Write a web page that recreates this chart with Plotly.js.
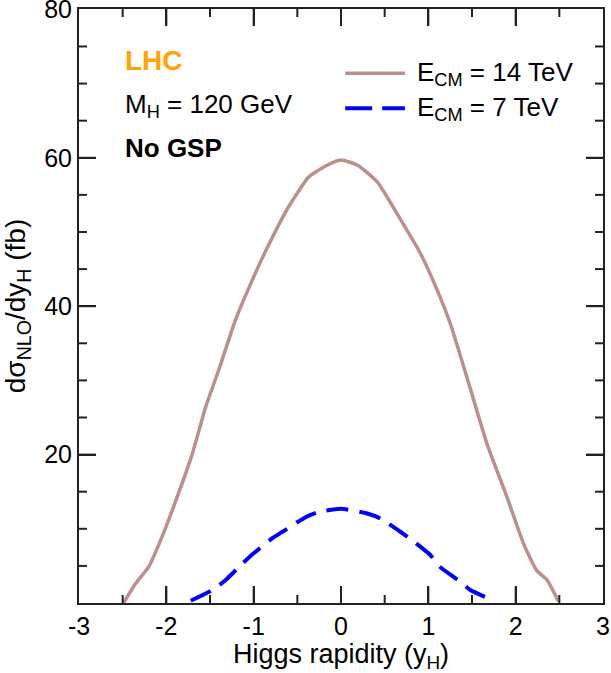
<!DOCTYPE html>
<html>
<head>
<meta charset="utf-8">
<script src="https://cdn.plot.ly/plotly-3.0.1.min.js"></script>
<style>
  html, body { margin: 0; padding: 0; background: #fff; overflow: hidden; }
  /* svg is 20px taller than the window so the "80" label at the top edge is not dropped */
  #chart { width: 611px; height: 693px; margin-top: -20px; }
</style>
</head>
<body>
<div id="chart"></div>
<script>
// 14 TeV curve
const rap14 = [-2.49, -2.35, -2.2, -2.05, -1.86, -1.7, -1.55, -1.4, -1.21, -1.05, -0.86, -0.6, -0.37, -0.175, 0,
               0.19, 0.42, 0.64, 0.91, 1.1, 1.25, 1.44, 1.67, 1.9, 2.09, 2.24, 2.36, 2.49];
const xsec14 = [0, 2.65, 4.9, 8.9, 14.8, 20.2, 26.4, 31.4, 38.1, 42.6, 47.5, 53.4, 57.4, 58.9, 59.7,
                59.0, 56.7, 52.5, 47.1, 42.2, 37.7, 30.5, 21.5, 14.3, 8.0, 4.4, 3.1, 0.2];

// 7 TeV curve
const rap7 = [-1.72, -1.47, -1.32, -1.13, -1.02, -0.79, -0.67, -0.4, -0.25, 0,
              0.29, 0.45, 0.68, 0.81, 1.02, 1.13, 1.35, 1.48, 1.73];
const xsec7 = [0.3, 1.75, 3.1, 5.3, 6.5, 8.7, 9.6, 11.6, 12.3, 12.7,
               12.1, 11.4, 9.6, 8.5, 6.5, 4.9, 3.0, 1.75, 0.4];

const xTicks = [-3, -2, -1, 0, 1, 2, 3];
const xTickText = ['-3', '-2', '-1', '0', '1', '2', '3'];
const yTicks = [20, 40, 60, 80];
const yMajor = [0, 20, 40, 60, 80];

const seriesNames = ['E<sub>CM</sub> = 14 TeV', 'E<sub>CM</sub> = 7 TeV'];
const seriesColors = ['#bc8f8f', '#0000ff'];

const font = 'Liberation Sans, Arial, sans-serif';
const tickCol = '#222';

const trace14 = {
    x: rap14, y: xsec14, mode: 'lines', name: seriesNames[0],
    line: {color: seriesColors[0], width: 3.5, shape: 'spline', smoothing: 0.5}
};
const trace7 = {
    x: rap7, y: xsec7, mode: 'lines', name: seriesNames[1],
    line: {color: seriesColors[1], width: 4, dash: '22px,11px', shape: 'spline', smoothing: 0.5}
};

function frame(extra) {
    return Object.assign({
        showline: true, linecolor: tickCol, linewidth: 2,
        mirror: 'allticks', ticks: 'inside', ticklen: 17, tickwidth: 2, tickcolor: tickCol,
        gridcolor: 'rgba(0,0,0,0)', zeroline: false,
        tickfont: {family: font, size: 25}
    }, extra);
}

// inside tick marks on all four sides, placed through the axes as shapes
const xMinor = xTicks.slice(1).map((v, i) => (v + xTicks[i]) / 2);
const yMinor = [];
yMajor.slice(1).forEach((v, i) => { [5, 10, 15].forEach(d => yMinor.push(yMajor[i] + d)); });

function xTick(v, len) {
    return [
        {type: 'line', xref: 'x', yref: 'paper', ysizemode: 'pixel', yanchor: 0, x0: v, x1: v, y0: 0, y1: len,
         line: {color: tickCol, width: 2}},
        {type: 'line', xref: 'x', yref: 'paper', ysizemode: 'pixel', yanchor: 1, x0: v, x1: v, y0: 0, y1: -len,
         line: {color: tickCol, width: 2}}
    ];
}
function yTick(v, len) {
    return [
        {type: 'line', xref: 'paper', yref: 'y', xsizemode: 'pixel', xanchor: 0, x0: 0, x1: len, y0: v, y1: v,
         line: {color: tickCol, width: 2}},
        {type: 'line', xref: 'paper', yref: 'y', xsizemode: 'pixel', xanchor: 1, x0: 0, x1: -len, y0: v, y1: v,
         line: {color: tickCol, width: 2}}
    ];
}
let tickShapes = [];
xTicks.slice(1, -1).forEach(v => { tickShapes = tickShapes.concat(xTick(v, 17)); });
xMinor.forEach(v => { tickShapes = tickShapes.concat(xTick(v, 8)); });
yTicks.slice(0, -1).forEach(v => { tickShapes = tickShapes.concat(yTick(v, 17)); });
yMinor.forEach(v => { tickShapes = tickShapes.concat(yTick(v, 8)); });

// legend drawn by hand so the sample lines match the original length
const legX0 = 0.508, legX1 = 0.622, legTextX = 0.641;
const legY = [0.892, 0.833];

const layout = {
    width: 611, height: 693,
    margin: {l: 79, r: 8, t: 29, b: 70},
    font: {family: font, color: '#000'},
    showlegend: false,
    xaxis: frame({
        range: [-3, 3], tickmode: 'array', tickvals: xTicks, ticktext: xTickText,
        title: {text: 'Higgs rapidity (y<sub>H</sub>)', font: {family: font, size: 27}, standoff: 6}
    }),
    yaxis: frame({
        range: [0, 80.05], tickmode: 'array', tickvals: yTicks,
        title: {text: 'dσ<sub>NLO</sub>/dy<sub>H</sub> (fb)', font: {family: font, size: 28}, standoff: 14}
    }),
    shapes: tickShapes.concat([
        {type: 'line', xref: 'paper', yref: 'paper', x0: legX0, x1: legX1, y0: legY[0], y1: legY[0],
         line: {color: seriesColors[0], width: 3.5}},
        {type: 'line', xref: 'paper', yref: 'paper', x0: legX0, x1: legX1, y0: legY[1], y1: legY[1],
         line: {color: seriesColors[1], width: 4, dash: '27px,10px'}}
    ]),
    annotations: [
        {xref: 'paper', yref: 'paper', x: legTextX, y: legY[0], xanchor: 'left', yanchor: 'middle',
         text: seriesNames[0], showarrow: false, font: {family: font, size: 26, color: '#000'}},
        {xref: 'paper', yref: 'paper', x: legTextX, y: legY[1], xanchor: 'left', yanchor: 'middle',
         text: seriesNames[1], showarrow: false, font: {family: font, size: 26, color: '#000'}},
        {xref: 'paper', yref: 'paper', x: 0.084, y: 0.914, xanchor: 'left', yanchor: 'middle',
         text: '<b>LHC</b>', showarrow: false, font: {family: font, size: 28, color: '#ffa500'}},
        {xref: 'paper', yref: 'paper', x: 0.084, y: 0.838, xanchor: 'left', yanchor: 'middle',
         text: 'M<sub>H</sub> = 120 GeV', showarrow: false, font: {family: font, size: 26, color: '#000'}},
        {xref: 'paper', yref: 'paper', x: 0.084, y: 0.766, xanchor: 'left', yanchor: 'middle',
         text: '<b>No GSP</b>', showarrow: false, font: {family: font, size: 26, color: '#000'}}
    ]
};

Plotly.newPlot('chart', [trace14, trace7], layout, {displayModeBar: false});
</script>
</body>
</html>
